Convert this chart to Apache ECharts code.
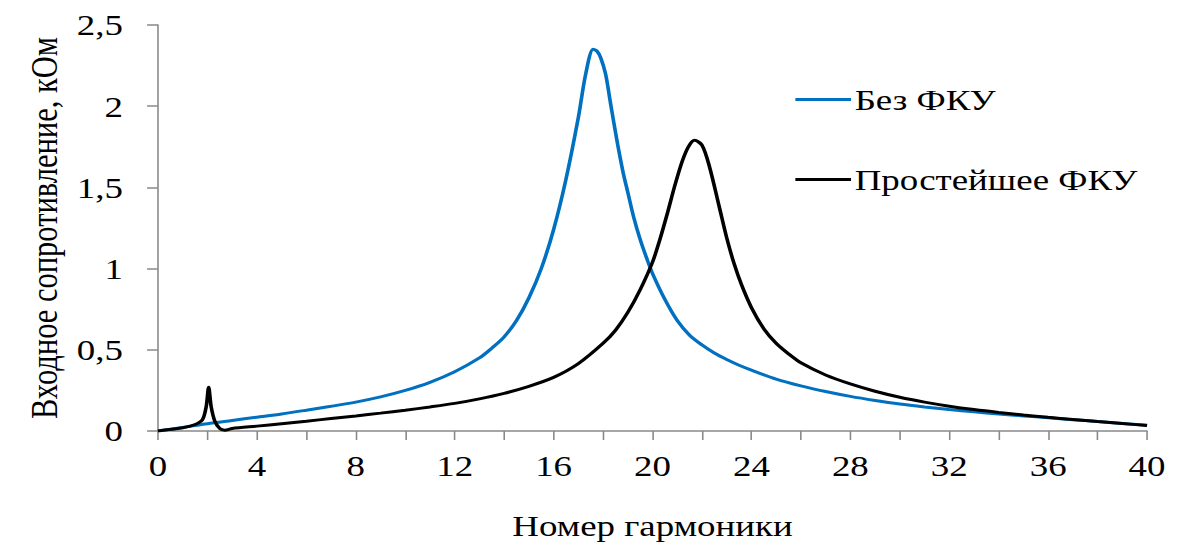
<!DOCTYPE html>
<html>
<head>
<meta charset="utf-8">
<script src="https://cdn.jsdelivr.net/npm/echarts@6/dist/echarts.min.js"></script>
<style>
  html, body { margin: 0; padding: 0; background: #fff; overflow: hidden; }
  #wrap { width: 1184px; height: 549px; overflow: hidden; }
  /* the figure is laid out narrower and widened horizontally, like the original export */
  #chart { width: 978px; height: 549px; transform: scaleX(1.2106); transform-origin: 0 0; }
</style>
</head>
<body>
<div id="wrap"><div id="chart"></div></div>
<script>
// Input impedance vs harmonic number
const seriesNames = ['Без ФКУ', 'Простейшее ФКУ'];

const harmonicsNoFilter = [0, 1, 2, 3, 4, 5, 6, 7, 8, 9, 10, 11, 12, 13, 13.5, 14, 14.5, 15, 15.5, 16, 16.5, 17, 17.3, 17.6, 17.75, 17.9, 18.1, 18.3, 18.56, 18.8, 19.0, 19.25, 19.5, 19.75, 20, 20.5, 21, 21.5, 22, 22.5, 23, 23.5, 24, 25, 26, 27, 28, 29, 30, 31, 32, 33, 34, 35, 36, 37, 38, 39, 40];
const impedanceNoFilter = [0, 0.022, 0.045, 0.065, 0.085, 0.105, 0.128, 0.152, 0.178, 0.21, 0.25, 0.3, 0.365, 0.45, 0.51, 0.58, 0.68, 0.82, 1.0, 1.24, 1.55, 1.93, 2.2, 2.35, 2.34, 2.3, 2.2, 2.02, 1.79, 1.6, 1.47, 1.31, 1.18, 1.07, 0.97, 0.81, 0.68, 0.59, 0.53, 0.48, 0.44, 0.405, 0.375, 0.32, 0.278, 0.243, 0.213, 0.188, 0.166, 0.148, 0.132, 0.118, 0.105, 0.093, 0.081, 0.07, 0.058, 0.046, 0.035];

const harmonicsSimpleFilter = [0, 0.5, 1, 1.5, 1.8, 1.95, 2.05, 2.15, 2.3, 2.5, 2.7, 3, 4, 5, 6, 7, 8, 9, 10, 11, 12, 13, 14, 15, 16, 17, 18, 18.5, 19, 19.5, 20, 20.3, 20.6, 20.9, 21.2, 21.45, 21.7, 22.0, 22.3, 22.7, 23.0, 23.3, 23.6, 24, 24.5, 25, 25.5, 26, 27, 28, 29, 30, 31, 32, 33, 34, 35, 36, 37, 38, 39, 40];
const impedanceSimpleFilter = [0, 0.01, 0.02, 0.04, 0.07, 0.15, 0.27, 0.15, 0.06, 0.015, 0.005, 0.015, 0.03, 0.045, 0.06, 0.077, 0.093, 0.11, 0.128, 0.148, 0.17, 0.198, 0.232, 0.275, 0.33, 0.415, 0.54, 0.62, 0.73, 0.87, 1.04, 1.18, 1.34, 1.51, 1.66, 1.75, 1.79, 1.76, 1.63, 1.38, 1.19, 1.03, 0.9, 0.76, 0.63, 0.54, 0.475, 0.42, 0.345, 0.29, 0.245, 0.208, 0.178, 0.153, 0.132, 0.114, 0.098, 0.084, 0.071, 0.058, 0.046, 0.034];

const xTitle = 'Номер гармоники';
const yTitle = 'Входное сопротивление, кОм';

const FONT = "'Liberation Serif', 'Times New Roman', serif";
const AXIS_GRAY = '#898989';

const pairs = (xs, ys) => xs.map((x, i) => [x, ys[i]]);

const chart = echarts.init(document.getElementById('chart'), null, { renderer: 'svg', width: 978, height: 549 });
chart.setOption({
  animation: false,
  backgroundColor: '#fff',
  grid: { left: 130.5, right: 30.5, top: 25, bottom: 118 },
  legend: [
    {
      data: [seriesNames[0]], left: 652, top: 79, orient: 'vertical',
      icon: 'rect', itemWidth: 46, itemHeight: 3, itemGap: 0,
      textStyle: { fontFamily: FONT, fontSize: 30.5, color: '#000', padding: [0, 0, 0, -2] }
    },
    {
      data: [seriesNames[1]], left: 652, top: 159, orient: 'vertical',
      icon: 'rect', itemWidth: 46, itemHeight: 3, itemGap: 0,
      textStyle: { fontFamily: FONT, fontSize: 30.5, color: '#000', padding: [0, 0, 0, -2] }
    }
  ],
  xAxis: {
    type: 'value', min: 0, max: 40, interval: 2,
    name: xTitle, nameLocation: 'middle', nameGap: 79,
    nameTextStyle: { fontFamily: FONT, fontSize: 30.5, color: '#000' },
    axisLine: { lineStyle: { color: AXIS_GRAY, width: 1.5 } },
    axisTick: { show: true, length: 9, lineStyle: { color: AXIS_GRAY, width: 1.3 } },
    splitLine: { show: false },
    axisLabel: {
      fontFamily: FONT, fontSize: 30.5, color: '#000', margin: 19,
      formatter: v => (v % 4 === 0 ? String(v) : '')
    }
  },
  yAxis: {
    type: 'value', min: 0, max: 2.5, interval: 0.5,
    name: yTitle, nameLocation: 'middle', nameGap: 68,
    nameTextStyle: { fontFamily: FONT, fontSize: 30.5, color: '#000' },
    axisLine: { show: true, lineStyle: { color: AXIS_GRAY, width: 1.3 } },
    axisTick: { show: true, length: 9, lineStyle: { color: AXIS_GRAY, width: 1.5 } },
    splitLine: { show: false },
    axisLabel: {
      fontFamily: FONT, fontSize: 30.5, color: '#000', margin: 29,
      formatter: v => String(v).replace('.', ',')
    }
  },
  series: [
    {
      name: seriesNames[0], type: 'line', data: pairs(harmonicsNoFilter, impedanceNoFilter),
      showSymbol: false, smooth: 0.3, color: '#0070C0',
      lineStyle: { width: 3, color: '#0070C0' }, z: 2
    },
    {
      name: seriesNames[1], type: 'line', data: pairs(harmonicsSimpleFilter, impedanceSimpleFilter),
      showSymbol: false, smooth: 0.3, color: '#000',
      lineStyle: { width: 3, color: '#000' }, z: 3
    }
  ]
});
</script>
</body>
</html>
